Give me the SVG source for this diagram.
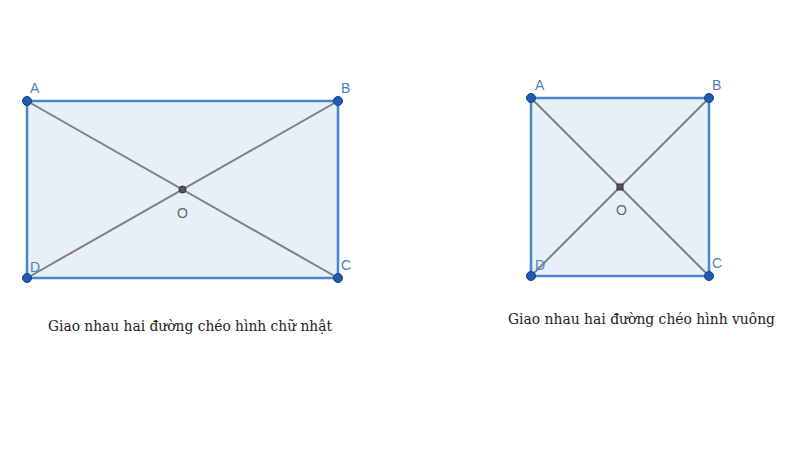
<svg xmlns="http://www.w3.org/2000/svg" width="800" height="450" viewBox="0 0 800 450">
<style>
.shape{fill:#e7eff8;stroke:#4a84cc;stroke-width:2.5}
.diag{stroke:#7f7f7f;stroke-width:2;fill:none}
.pt{fill:#1d5db3;stroke:#153f7a;stroke-width:1}
.ctr{fill:#555;stroke:#333;stroke-width:1}
.lbl{font-family:"Liberation Sans",Arial,sans-serif;font-size:14px;fill:#4b7fc0}
.olbl{font-family:"Liberation Sans",Arial,sans-serif;font-size:14px;fill:#666}
.cap{font-family:"DejaVu Serif","Liberation Serif",serif;font-size:15px;fill:#222}
</style>
<rect width="800" height="450" fill="#ffffff"/>
<g id="rectangle">
<polygon class="shape" points="27,101 338,101 338,278 27,278"/>
<g id="rect-diagonals">
<line class="diag" x1="27" y1="101" x2="338" y2="278"/>
<line class="diag" x1="27" y1="278" x2="338" y2="101"/>
</g>
<circle class="pt" cx="27" cy="101" r="4.5"/>
<circle class="pt" cx="338" cy="101" r="4.5"/>
<circle class="pt" cx="338" cy="278" r="4.5"/>
<circle class="pt" cx="27" cy="278" r="4.5"/>
<circle class="ctr" cx="182.5" cy="189.5" r="3.5"/>
<text class="lbl" x="30" y="93">A</text>
<text class="lbl" x="341" y="93">B</text>
<text class="lbl" x="341" y="270">C</text>
<text class="lbl" x="30" y="272">D</text>
<text class="olbl" x="177" y="218">O</text>
<text class="cap" x="48" y="331" textLength="284" lengthAdjust="spacingAndGlyphs">Giao nhau hai đường chéo hình chữ nhật</text>
</g>
<g id="square">
<polygon class="shape" points="531,98 709,98 709,276 531,276"/>
<g id="square-diagonals">
<line class="diag" x1="531" y1="98" x2="709" y2="276"/>
<line class="diag" x1="531" y1="276" x2="709" y2="98"/>
</g>
<circle class="pt" cx="531" cy="98" r="4.5"/>
<circle class="pt" cx="709" cy="98" r="4.5"/>
<circle class="pt" cx="709" cy="276" r="4.5"/>
<circle class="pt" cx="531" cy="276" r="4.5"/>
<rect class="ctr" x="617" y="184" width="6" height="6"/>
<text class="lbl" x="535" y="90">A</text>
<text class="lbl" x="712" y="90">B</text>
<text class="lbl" x="712" y="268">C</text>
<text class="lbl" x="535" y="270">D</text>
<text class="olbl" x="616" y="215">O</text>
<text class="cap" x="508" y="324" textLength="267" lengthAdjust="spacingAndGlyphs">Giao nhau hai đường chéo hình vuông</text>
</g>
</svg>
